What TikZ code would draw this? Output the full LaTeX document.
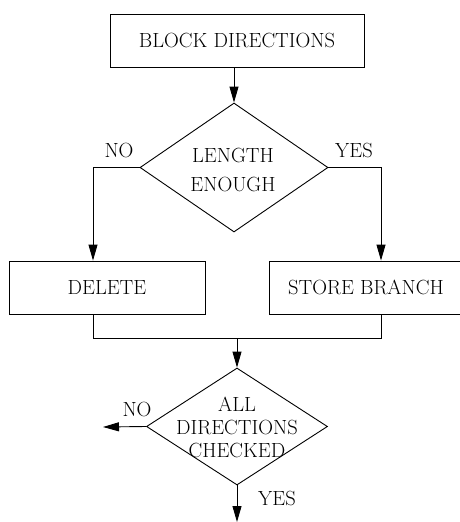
\documentclass[tikz,border=0pt]{standalone}
\usepackage{fontspec}
\usetikzlibrary{arrows.meta,shapes.geometric}

\tikzset{
  flow/.style={font=\fontsize{20.5}{24}\selectfont},
  blockbox/.style={flow, draw, line width=0.9pt, rectangle, minimum height=53pt},
  decide/.style={draw, line width=0.9pt, diamond, inner sep=0pt},
  arr/.style={line width=0.9pt, -{Triangle[length=16pt,width=9pt]}},
  line/.style={line width=0.9pt},
}

\begin{document}
\begin{tikzpicture}[x=1pt, y=-1pt]
 \useasboundingbox (0,0) rectangle (459,522);

 \node[blockbox, minimum width=254pt] (top)   at (237, 40.5)  {BLOCK DIRECTIONS};
 \node[decide, minimum width=188pt, minimum height=129pt] (len) at (234, 167.5) {};
 \node[flow, align=center, font=\fontsize{20.5}{29}\selectfont] (lentxt) at (233, 170) {LENGTH\\ENOUGH};
 \node[blockbox, minimum width=196pt] (del)   at (107, 287.5) {DELETE};
 \node[blockbox, minimum width=194pt] (store) at (366, 287.5) {STORE BRANCH};
 \node[decide, minimum width=181pt, minimum height=117pt] (chk) at (237, 426.5) {};
 \node[flow, align=center, font=\fontsize{20.5}{23}\selectfont] (chktxt) at (237, 427) {ALL\\DIRECTIONS\\CHECKED};

 \coordinate (lj)     at (93, 167.5);
 \coordinate (rj)     at (381, 167.5);
 \coordinate (mj)     at (237, 338);
 \coordinate (noend)  at (103, 427);
 \coordinate (yesend) at (237, 522);

 \draw[arr] (top.south -| len.north) -- (len.north);
 \draw[arr] (len.west) -- (lj) -- (lj |- del.north);
 \draw[arr] (len.east) -- (rj) -- (rj |- store.north);
 \draw[line] (lj |- del.south) -- (lj |- mj) -- (rj |- mj) -- (rj |- store.south);
 \draw[arr] (mj) -- (chk.north);
 \draw[arr] (chk.west) -- (noend);
 \draw[arr] (chk.south) -- (yesend);

 \node[flow] (no1)  at (119, 150) {NO};
 \node[flow] (yes1) at (354, 150) {YES};
 \node[flow] (no2)  at (137, 409) {NO};
 \node[flow] (yes2) at (277, 498) {YES};
\end{tikzpicture}
\end{document}
